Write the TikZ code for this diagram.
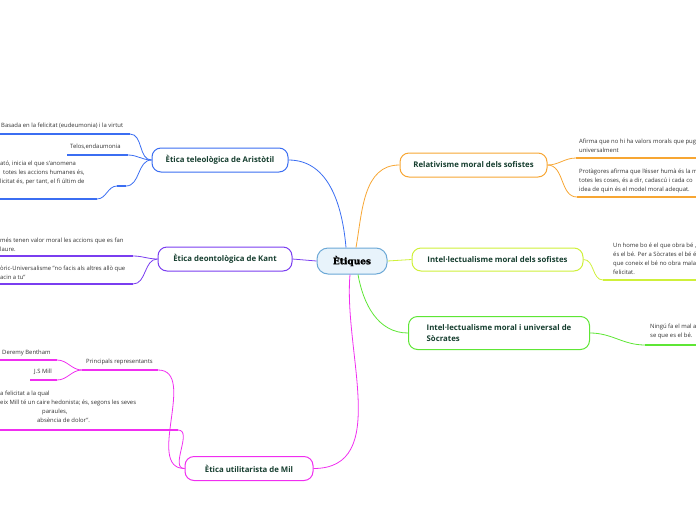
\documentclass[tikz,border=0pt]{standalone}
\usepackage{fontspec}
\setmainfont{Open Sans}
\newfontfamily\centralfont[FakeBold=1.6]{DejaVu Serif}
\definecolor{cBlue}{HTML}{3B6EF2}
\definecolor{cPurple}{HTML}{7A3DF0}
\definecolor{cMag}{HTML}{F02EF0}
\definecolor{cOrange}{HTML}{F7A633}
\definecolor{cLime}{HTML}{CFF03A}
\definecolor{cGreen}{HTML}{5EE635}
\definecolor{cCentral}{HTML}{6BA8D6}
\definecolor{cCentralFill}{HTML}{E8F3FB}
\definecolor{cLabel}{HTML}{173F30}
\definecolor{cSub}{HTML}{333333}
\tikzset{
 central/.style={draw=cCentral, fill=cCentralFill, line width=1pt, rounded corners=11pt, minimum width=70pt, minimum height=26pt, inner sep=0pt, font=\centralfont\bfseries\fontsize{9}{11}\selectfont},
 branch/.style={draw=#1, fill=white, line width=1pt, rounded corners=9pt, inner sep=0pt, text=cLabel, font=\bfseries\fontsize{7.8}{10.5}\selectfont},
 subtext/.style={anchor=north west, inner sep=0pt, text=cSub, align=left, font=\fontsize{5.9}{9}\selectfont},
 conn/.style={draw=#1, line width=0.8pt},
 uline/.style={draw=#1, line width=1.8pt},
}
\begin{document}
\begin{tikzpicture}[x=1pt,y=-1pt]
\useasboundingbox (0,0) rectangle (696,520);
\clip (0,0) rectangle (696,520);
% central
\node[central] (c) at (352,261) {Ètiques};
% branches
\node[branch=cOrange, minimum width=147pt, minimum height=24pt] (rel) at (473.5,165) {Relativisme moral dels sofistes};
\node[branch=cLime, minimum width=171pt, minimum height=23pt] (ints) at (497.5,259.5) {Intel·lectualisme moral dels sofistes};
\node[branch=cGreen, minimum width=181pt, minimum height=33pt, align=left] (soc) at (499,333) {Intel·lectualisme moral i universal de\\Sòcrates};
\node[branch=cBlue, minimum width=136pt, minimum height=24pt] (ari) at (220,160) {Ètica teleològica de Aristòtil};
\node[branch=cPurple, minimum width=134pt, minimum height=24pt] (kan) at (225,259) {Ètica deontològica de Kant};
\node[branch=cMag, minimum width=128pt, minimum height=24pt] (mil) at (249,468.5) {Ètica utilitarista de Mil};
% sub texts
\node[subtext] (a1) at (1,123) {Basada en la felicitat (eudeumonia) i la virtut};
\node[subtext] (a2) at (70,143.5) {Telos,endaumonia};
\node[subtext] (a3) at (0,160.5) {ató, inicia el que s'anomena\\\hspace*{3pt}totes les accions humanes és,\\licitat és, per tant, el fi últim de};
\node[subtext] (k1) at (0,237.5) {més tenen valor moral les accions que es fan\\laure.};
\node[subtext] (k2) at (0,265.5) {òric-Universalisme "no facis als altres allò que\\acin a tu"};
\node[subtext] (pr) at (86,358.5) {Principals representants};
\node[subtext] (db) at (2,349.5) {Deremy Bentham};
\node[subtext] (js) at (34,368.5) {J.S Mill};
\node[subtext] (m3) at (0,390.5) {a felicitat a la qual\\eix Mill té un caire hedonista; és, segons les seves\\\hspace*{42pt}paraules,\\\hspace*{37pt}absència de dolor".};
\node[subtext] (r1) at (579,138.5) {Afirma que no hi ha valors morals que pug\\universalment};
\node[subtext] (r2) at (579,169) {Protàgores afirma que l'ésser humà és la m\\totes les coses, és a dir, cadascú i cada co\\idea de quin és el model moral adequat.};
\node[subtext] (i1) at (613,242.5) {Un home bo é el que obra bé ,\\és el bé. Per a Sòcrates el bé é\\que coneix el bé no obra mala\\felicitat.};
\node[subtext] (s1) at (650,323.5) {Ningú fa el mal a\\se que es el bé.};
% underline coordinates
\coordinate (a1s) at (0,134); \coordinate (a1e) at (130,134);
\coordinate (a2s) at (67,155); \coordinate (a2e) at (128,155);
\coordinate (a3k) at (126,186); \coordinate (a3j) at (117,186);
\coordinate (a3s) at (0,199); \coordinate (a3e) at (97,199);
\coordinate (k1s) at (0,256); \coordinate (k1e) at (133,256);
\coordinate (k2s) at (0,284); \coordinate (k2e) at (133,284);
\coordinate (prs) at (82,370); \coordinate (pre) at (158,370);
\coordinate (dbs) at (0,360); \coordinate (dbe) at (57,360);
\coordinate (jss) at (30,380); \coordinate (jse) at (57,380);
\coordinate (m3s) at (0,430); \coordinate (m3e) at (178,430);
\coordinate (r1s) at (576,158); \coordinate (r1e) at (696,158);
\coordinate (r2s) at (577,197); \coordinate (r2e) at (696,197);
\coordinate (i1s) at (603,280); \coordinate (i1e) at (696,280);
\coordinate (s1s) at (645,345); \coordinate (s1e) at (696,345);
% main connectors
\draw[conn=cBlue] ([xshift=-6pt]c.north) to[out=95,in=0] (ari.east);
\draw[conn=cOrange] ([xshift=4pt]c.north) to[out=80,in=180] (rel.west);
\draw[conn=cPurple] (c.west) -- (kan.east);
\draw[conn=cLime] (c.east) -- (ints.west);
\draw[conn=cGreen] ([xshift=6pt]c.south) to[out=-80,in=180] (soc.west);
\draw[conn=cMag] ([xshift=-2pt]c.south) to[out=-95,in=0] (mil.east);
% sub connectors
\draw[conn=cBlue] (ari.west) to[out=180,in=0] (a1e);
\draw[conn=cBlue] (ari.west) to[out=180,in=0] (a2e);
\draw[conn=cBlue] (ari.west) to[out=180,in=0] (a3k);
\draw[conn=cBlue] (a3j) to[out=180,in=0] (a3e);
\draw[conn=cPurple] (kan.west) to[out=180,in=0] (k1e);
\draw[conn=cPurple] (kan.west) to[out=180,in=0] (k2e);
\draw[conn=cMag] (mil.west) to[out=180,in=0] (pre);
\draw[conn=cMag] (mil.west) to[out=180,in=0] (m3e);
\draw[conn=cMag] (prs) to[out=180,in=0] (dbe);
\draw[conn=cMag] (prs) to[out=180,in=0] (jse);
\draw[conn=cOrange] (rel.east) to[out=0,in=180] (r1s);
\draw[conn=cOrange] (rel.east) to[out=0,in=180] (r2s);
\draw[conn=cLime] (ints.east) to[out=0,in=180] (i1s);
\draw[conn=cGreen] (soc.east) to[out=0,in=180] (s1s);
% underlines
\draw[uline=cBlue] (a1s) -- (a1e);
\draw[uline=cBlue] (a2s) -- (a2e);
\draw[uline=cBlue] (a3k) -- (a3j);
\draw[uline=cBlue] (a3s) -- (a3e);
\draw[uline=cPurple] (k1s) -- (k1e);
\draw[uline=cPurple] (k2s) -- (k2e);
\draw[uline=cMag] (prs) -- (pre);
\draw[uline=cMag] (dbs) -- (dbe);
\draw[uline=cMag] (jss) -- (jse);
\draw[uline=cMag] (m3s) -- (m3e);
\draw[uline=cOrange] (r1s) -- (r1e);
\draw[uline=cOrange] (r2s) -- (r2e);
\draw[uline=cLime] (i1s) -- (i1e);
\draw[uline=cGreen] (s1s) -- (s1e);
\end{tikzpicture}
\end{document}
